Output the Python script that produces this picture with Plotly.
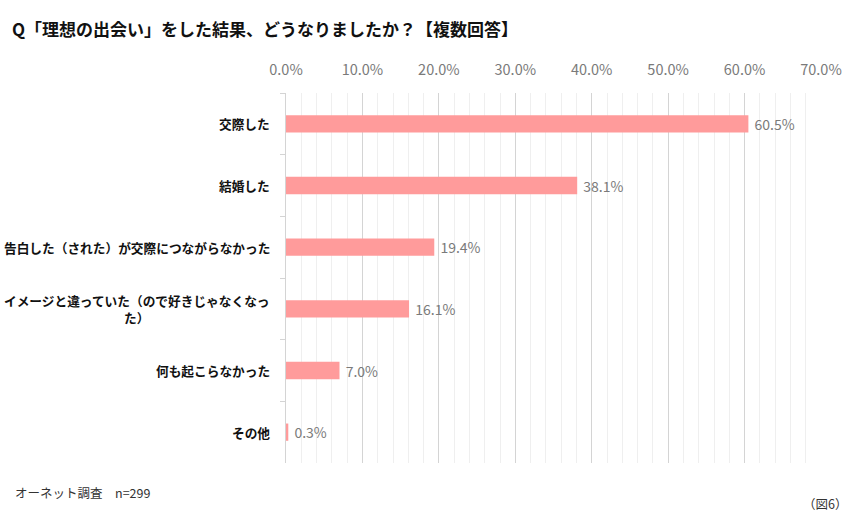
import plotly.graph_objects as go

categories = [
    "交際した",
    "結婚した",
    "告白した（された）が交際につながらなかった",
    "イメージと違っていた（ので好きじゃなくなっ<br>た）",
    "何も起こらなかった",
    "その他",
]
values = [60.5, 38.1, 19.4, 16.1, 7.0, 0.3]
tick_vals = [0, 10, 20, 30, 40, 50, 60, 70]

JP = "Noto Sans CJK JP"

fig = go.Figure()
fig.add_trace(go.Bar(
    x=values,
    y=categories,
    orientation="h",
    width=0.28,
    marker=dict(color="#FF9B9B", line=dict(width=0)),
    texttemplate=" %{x:.1f}%",
    textposition="outside",
    constraintext="none",
    textfont=dict(family=JP, size=14, color="#7a7a7a"),
    cliponaxis=False,
    hoverinfo="skip",
))

for cat in categories:
    fig.add_annotation(
        x=0, xref="paper", y=cat, yref="y",
        text=cat, showarrow=False,
        xanchor="right", xshift=-14, align="center",
        font=dict(family=JP, size=12.7, color="#111111", weight="bold"),
    )

fig.add_annotation(
    x=(13 - 286) / 535, y=(463 - 492) / 370, xref="paper", yref="paper",
    text="オーネット調査　n=299", showarrow=False, xanchor="left", yanchor="middle",
    font=dict(family=JP, size=12.5, color="#333333"),
)
fig.add_annotation(
    x=(849 - 286) / 535, y=(463 - 503) / 370, xref="paper", yref="paper",
    text="（図6）", showarrow=False, xanchor="right", yanchor="middle",
    font=dict(family=JP, size=12.5, color="#333333"),
)

fig.update_layout(
    width=862, height=522,
    margin=dict(l=286, r=41, t=93, b=59, autoexpand=False),
    paper_bgcolor="white", plot_bgcolor="white",
    showlegend=False,
    title=dict(
        text="Q「理想の出会い」をした結果、どうなりましたか？【複数回答】",
        xref="container", x=12 / 862, xanchor="left",
        yref="container", y=1 - 30 / 522, yanchor="middle",
        font=dict(family=JP, size=17, color="#111111", weight="bold"),
    ),
    xaxis=dict(
        side="top", range=[0, 70],
        tickvals=tick_vals,
        ticktext=[f"{v:.1f}%" for v in tick_vals],
        tickfont=dict(family=JP, size=14.5, color="#7a7a7a"),
        ticklabelstandoff=14,
        showgrid=True, gridcolor="#d4d4d4", gridwidth=1,
        minor=dict(dtick=2, showgrid=True, gridcolor="#efefef", gridwidth=1),
        showline=False, zeroline=False, ticks="",
        automargin=False,
        fixedrange=True,
    ),
    yaxis=dict(
        autorange="reversed",
        showticklabels=False,
        showline=True, linecolor="#d4d4d4", linewidth=1,
        ticks="outside", tickson="boundaries", ticklen=5, tickcolor="#d4d4d4",
        showgrid=False, zeroline=False,
        automargin=False,
        fixedrange=True,
    ),
    bargap=0.72,
)

fig.write_html(
    "out.html",
    config={"displayModeBar": False},
    post_script="document.body.style.margin='0';",
)
